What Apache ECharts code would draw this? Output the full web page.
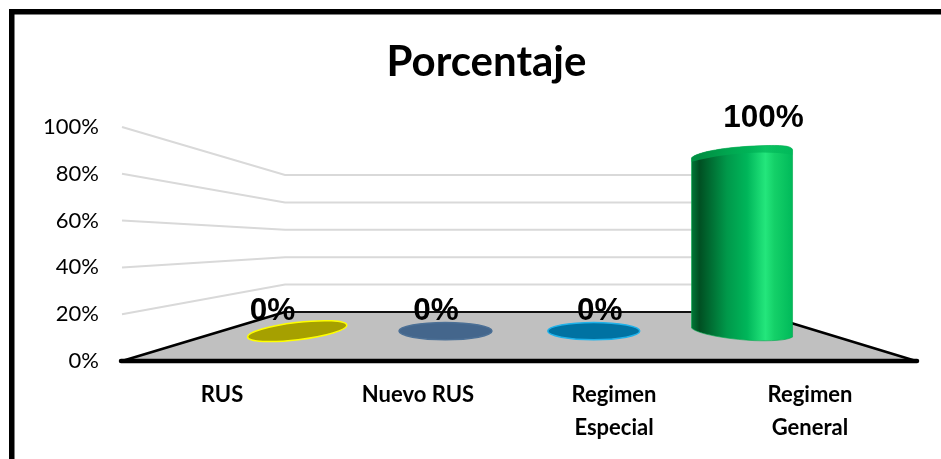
<!DOCTYPE html>
<html>
<head>
<meta charset="utf-8">
<style>html,body{margin:0;padding:0;background:#fff}#c{width:941px;height:459px}</style>
<script src="https://cdn.jsdelivr.net/npm/echarts@6/dist/echarts.min.js"></script>
</head>
<body>
<div id="c"></div>
<script>
// ---- data ----
const titleText = 'Porcentaje';
const categories = ['RUS', 'Nuevo RUS', 'Regimen\nEspecial', 'Regimen\nGeneral'];
const percentValues = [0, 0, 0, 100];
const yTicks = [20, 40, 60, 80, 100];

// ---- styles ----
const fillColors = ['#a6a000', '#44668c', '#0072a2', '#00b050'];
const edgeColors = ['#ffff00', '#4c7096', '#1fb2ea', '#00b050'];
const capRx = [50, 46.5, 46, 50.5];
const capTilt = [0.12, 0, 0, 0];

// ---- perspective layout (pixel offsets of the 3D box relative to the grid) ----
const GRID = {left: 124, top: 127, width: 784, height: 234};
const FRONT_L = 122, FRONT_R = 916;   // front floor edge
const BACK_L = 285, BACK_R = 755;     // back wall extent
const BACK_BASE = 49, BACK_H = 137;   // back wall rise and height
const BAR_DEPTH = 0.62, LABEL_DEPTH = 0.43;

function project(api, u, value, t) {
  const y0 = api.coord([0, 0])[1];
  const yv = api.coord([0, value])[1];
  const frontL = FRONT_L, frontW = FRONT_R - FRONT_L;
  const backW = BACK_R - BACK_L;
  const xf = frontL + u * frontW;
  const xb = BACK_L + u * backW;
  const yf = yv;
  const yb = y0 - BACK_BASE - (y0 - yv) / (y0 - api.coord([0, 100])[1]) * BACK_H;
  return [xf + (xb - xf) * t, yf + (yb - yf) * t];
}
function catU(api, params, i) {
  const cs = params.coordSys;
  return (api.coord([i, 0])[0] - cs.x) / cs.width;
}

function renderWall(params, api) {
  const v = api.value(0);
  return {
    type: 'polyline', silent: true,
    shape: {points: [project(api, 0, v, 0), project(api, 0, v, 1), project(api, 1, v, 1)]},
    style: {stroke: '#d9d9d9', lineWidth: 2, fill: null}
  };
}
function renderFloor(params, api) {
  const a = project(api, 0, 0, 0), b = project(api, 0, 0, 1),
        c = project(api, 1, 0, 1), d = project(api, 1, 0, 0);
  return {type: 'group', silent: true, children: [
    {type: 'polygon', shape: {points: [a, b, c, d]}, style: {fill: '#c0c0c0'}},
    {type: 'line', shape: {x1: b[0], y1: b[1], x2: c[0], y2: c[1]}, style: {stroke: '#111', lineWidth: 2}},
    {type: 'line', shape: {x1: a[0], y1: a[1], x2: b[0], y2: b[1]}, style: {stroke: '#000', lineWidth: 2.6, lineCap: 'round'}},
    {type: 'line', shape: {x1: c[0], y1: c[1], x2: d[0], y2: d[1]}, style: {stroke: '#000', lineWidth: 2.6, lineCap: 'round'}},
    {type: 'line', shape: {x1: a[0] - 1, y1: a[1], x2: d[0] + 1, y2: d[1]}, style: {stroke: '#000', lineWidth: 4.5, lineCap: 'round'}}
  ]};
}
function renderBar(params, api) {
  const i = api.value(0), v = api.value(1);
  const u = catU(api, params, i);
  const base = project(api, u, 0, BAR_DEPTH);
  const top = project(api, u, v, BAR_DEPTH);
  const cx = base[0], yB = base[1] + 0.5, yT = top[1];
  if (v === 0) {
    return {
      type: 'ellipse', silent: true, x: cx, y: yB, rotation: capTilt[i],
      shape: {cx: 0, cy: 0, rx: capRx[i], ry: 8.6},
      style: {fill: fillColors[i], stroke: edgeColors[i], lineWidth: 1.5}
    };
  }
  const r = capRx[i];
  const L = cx - r, R = cx + r;
  const body = [
    'M', L, yT + 1,
    'C', L + 6, yT - 5, cx - 15, yT - 10, cx + 18, yT - 11,
    'C', cx + 34, yT - 11.5, R - 1, yT - 12, R, yT - 7,
    'L', R, yB + 6,
    'C', R - 6, yB + 9.5, cx + 28, yB + 10, cx + 12, yB + 9.5,
    'C', cx - 15, yB + 8, L + 6, yB + 3, L, yB - 3,
    'Z'
  ].join(' ');
  const cap = [
    'M', L, yT + 1,
    'C', L + 6, yT - 5, cx - 15, yT - 10, cx + 18, yT - 11,
    'C', cx + 34, yT - 11.5, R - 1, yT - 12, R, yT - 7,
    'L', R, yT - 2,
    'C', cx + 20, yT - 7, cx - 20, yT - 3, L, yT + 5,
    'Z'
  ].join(' ');
  return {type: 'group', silent: true, children: [
    {type: 'path', shape: {pathData: body}, style: {
      stroke: '#00a84c', lineWidth: 0.6,
      fill: {type: 'linear', x: 0, y: 0, x2: 1, y2: 0, colorStops: [
        {offset: 0, color: '#007a38'},
        {offset: 0.08, color: '#004f22'},
        {offset: 0.35, color: '#00984a'},
        {offset: 0.55, color: '#00b65a'},
        {offset: 0.73, color: '#24e67c'},
        {offset: 0.82, color: '#14d068'},
        {offset: 1, color: '#00b95a'}
      ]}}},
    {type: 'path', shape: {pathData: cap}, style: {
      fill: {type: 'linear', x: 0, y: 0, x2: 1, y2: 0, colorStops: [
        {offset: 0, color: 'rgba(0,150,70,0.85)'},
        {offset: 0.5, color: 'rgba(0,176,85,0.8)'},
        {offset: 1, color: 'rgba(0,185,90,0.6)'}
      ]}}}
  ]};
}
function renderLabel(params, api) {
  const i = api.value(0), v = api.value(1);
  const p = project(api, catU(api, params, i), v, LABEL_DEPTH);
  return {
    type: 'text', silent: true, x: p[0] - 1.5, y: p[1] - 29,
    style: {
      text: v + '%', fill: '#000', align: 'center', verticalAlign: 'middle',
      font: 'bold 31.5px "Liberation Sans"'
    }
  };
}

const chart = echarts.init(document.getElementById('c'), null, {renderer: 'canvas'});
chart.setOption({
  animation: false,
  backgroundColor: '#ffffff',
  title: {
    text: titleText, left: 481.5, top: 36, textAlign: 'center',
    textStyle: {fontFamily: 'Lato', fontWeight: 700, fontSize: 42, color: '#000'}
  },
  grid: GRID,
  xAxis: {
    type: 'category', data: categories,
    axisLine: {show: false}, axisTick: {show: false},
    axisLabel: {
      fontFamily: 'Lato', fontWeight: 700, fontSize: 22, color: '#000',
      lineHeight: 33, margin: 17, interval: 0, verticalAlign: 'top'
    }
  },
  yAxis: {
    type: 'value', min: 0, max: 100, interval: 20,
    axisLine: {show: false}, axisTick: {show: false}, splitLine: {show: false},
    axisLabel: {
      formatter: '{value}%', fontFamily: 'Lato', fontSize: 22, color: '#000',
      margin: 25, padding: [3, 0, 0, 0]
    }
  },
  graphic: [
    {type: 'rect', silent: true, shape: {x: 9, y: 9, width: 932, height: 5.5}, style: {fill: '#000'}},
    {type: 'rect', silent: true, shape: {x: 9, y: 9, width: 5.5, height: 450}, style: {fill: '#000'}}
  ],
  series: [
    {type: 'custom', coordinateSystem: 'cartesian2d', z: 1, clip: false,
     renderItem: renderWall, encode: {y: 0}, data: yTicks.map(v => [v])},
    {type: 'custom', coordinateSystem: 'cartesian2d', z: 2, clip: false,
     renderItem: renderFloor, encode: {y: 0}, data: [[0]]},
    {type: 'custom', coordinateSystem: 'cartesian2d', z: 3, clip: false,
     renderItem: renderBar, encode: {x: 0, y: 1},
     data: percentValues.map((v, i) => [i, v])},
    {type: 'custom', coordinateSystem: 'cartesian2d', z: 4, clip: false,
     renderItem: renderLabel, encode: {x: 0, y: 1},
     data: percentValues.map((v, i) => [i, v])}
  ]
});
</script>
</body>
</html>
